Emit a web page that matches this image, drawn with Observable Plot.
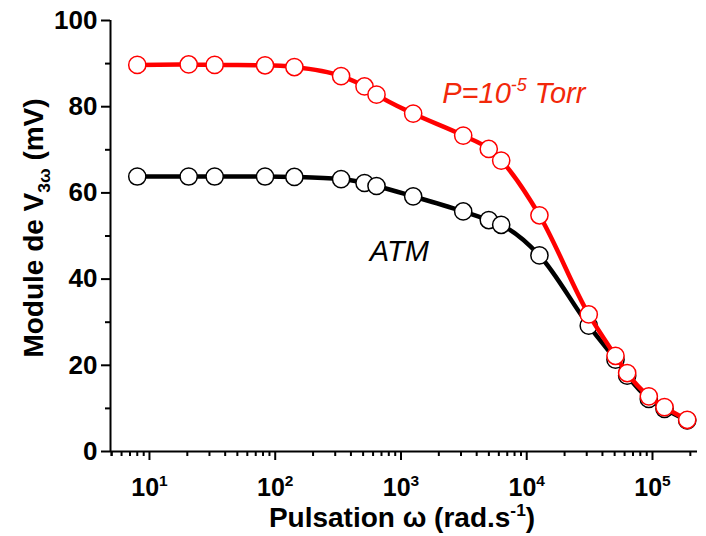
<!DOCTYPE html>
<html>
<head>
<meta charset="utf-8">
<script src="https://cdn.jsdelivr.net/npm/d3@7"></script>
<script src="https://cdn.jsdelivr.net/npm/@observablehq/plot@0.6"></script>
<style>
  html, body { margin: 0; padding: 0; background: #fff; }
</style>
</head>
<body>
<div id="chart"></div>
<script>
// ---- data ----
const omega = [8, 20.5, 33, 83, 142, 334, 513, 639, 1250, 3125, 4990, 6265, 12620, 31130, 50800, 62900, 93500, 124600, 188900];
const vVacuum = [89.7, 89.8, 89.7, 89.6, 89.2, 87.1, 84.7, 82.8, 78.4, 73.3, 70.2, 67.5, 54.8, 31.8, 22.2, 18.2, 12.8, 10.3, 7.35];
const vATM = [63.8, 63.8, 63.8, 63.8, 63.7, 63.2, 62.3, 61.6, 59.2, 55.7, 53.7, 52.6, 45.5, 29.2, 21.3, 17.6, 12.2, 9.9, 7.2];

const xMajorTicks = [10, 100, 1000, 10000, 100000];
const yMajorTicks = [0, 20, 40, 60, 80, 100];
const yMinorTicks = [10, 30, 50, 70, 90];
const xDomain = [4.9, 228000];
const yDomain = [0, 100];

const labelVacuum = "P=10^{-5} Torr";
const labelATM = "ATM";
const xTitle = "Pulsation ω (rad.s^{-1})";
const yTitle = "Module de V_{3ω} (mV)";

// minor log ticks (2..9 × 10^k inside the domain)
const xMinorTicks = [];
for (let k = 0; k <= 5; k++) for (let m = 2; m <= 9; m++) {
  const v = m * Math.pow(10, k);
  if (v >= xDomain[0] && v <= xDomain[1]) xMinorTicks.push(v);
}
if (5 >= xDomain[0]) xMinorTicks.push(5);

const atm = omega.map((w, i) => ({w, v: vATM[i]}));
const vac = omega.map((w, i) => ({w, v: vVacuum[i]}));

const FONT = "'Liberation Sans', Arial, Helvetica, sans-serif";
const RED = "#ff0000";
const RED_TEXT = "#f2280a";

const plot = Plot.plot({
  width: 706,
  height: 536,
  marginLeft: 110,
  marginRight: 9,
  marginTop: 20,
  marginBottom: 85,
  style: {fontFamily: FONT, background: "#fff", color: "#000"},
  x: {type: "log", domain: xDomain},
  y: {domain: yDomain},
  marks: [
    // axes
    Plot.axisX({ticks: xMinorTicks, tickSize: 5, tickFormat: () => "", strokeWidth: 2, label: null}),
    Plot.axisX({ticks: xMajorTicks, tickSize: 9, tickPadding: 18, strokeWidth: 2,
      tickFormat: d => `10^{${Math.round(Math.log10(d))}}`,
      fontSize: 25, fontWeight: "bold", label: null}),
    Plot.axisY({ticks: yMinorTicks, tickSize: 5, tickFormat: () => "", strokeWidth: 2, label: null}),
    Plot.axisY({ticks: yMajorTicks, tickSize: 9, tickPadding: 4, strokeWidth: 2,
      fontSize: 26, fontWeight: "bold", label: null}),
    Plot.ruleY([yDomain[0]], {strokeWidth: 2}),
    Plot.ruleX([xDomain[0]], {strokeWidth: 2}),
    // ATM series
    Plot.line(atm, {x: "w", y: "v", stroke: "#000", strokeWidth: 4.5, curve: "monotone-x"}),
    Plot.dot(atm, {x: "w", y: "v", r: 8.6, fill: "#fff", stroke: "#000", strokeWidth: 1.5}),
    // vacuum series
    Plot.line(vac, {x: "w", y: "v", stroke: RED, strokeWidth: 4.5, curve: "monotone-x"}),
    Plot.dot(vac, {x: "w", y: "v", r: 8.6, fill: "#fff", stroke: RED, strokeWidth: 1.5}),
    // annotations
    Plot.text([labelVacuum], {x: 2130, y: 83.0, text: d => d, textAnchor: "start", lineAnchor: "middle",
      fill: RED_TEXT, fontSize: 29, fontStyle: "italic"}),
    Plot.text([labelATM], {x: 565, y: 46.3, text: d => d, textAnchor: "start", lineAnchor: "middle",
      fill: "#000", fontSize: 29, fontStyle: "italic"}),
    // axis titles
    Plot.text([xTitle], {frameAnchor: "bottom", text: d => d, dy: 67, dx: -2, textAnchor: "middle", lineAnchor: "middle",
      fontSize: 28, fontWeight: "bold", fill: "#000"}),
    Plot.text([yTitle], {frameAnchor: "left", text: d => d, rotate: -90, dx: -76, dy: -8, textAnchor: "middle", lineAnchor: "middle",
      fontSize: 28, fontWeight: "bold", fill: "#000"})
  ]
});

document.getElementById("chart").appendChild(plot);

// turn ^{..} and _{..} into real superscript / subscript tspans
function richify(svg) {
  const NS = "http://www.w3.org/2000/svg";
  svg.querySelectorAll("text").forEach(t => {
    const s = t.textContent;
    if (!/[\^_]\{/.test(s)) return;
    const fs = parseFloat(getComputedStyle(t).fontSize) || 16;
    const re = /([\^_])\{([^}]*)\}/g;
    const parts = [];
    let last = 0, m;
    while ((m = re.exec(s))) {
      parts.push([null, s.slice(last, m.index)]);
      parts.push([m[1], m[2]]);
      last = re.lastIndex;
    }
    parts.push([null, s.slice(last)]);
    while (t.firstChild) t.removeChild(t.firstChild);
    let offset = 0;
    for (const [kind, str] of parts) {
      if (!str) continue;
      const ts = document.createElementNS(NS, "tspan");
      ts.textContent = str;
      let target = 0;
      if (kind === "^") { target = -0.42 * fs; ts.setAttribute("font-size", (0.62 * fs) + "px"); }
      else if (kind === "_") { target = 0.22 * fs; ts.setAttribute("font-size", (0.62 * fs) + "px"); }
      if (target !== offset) ts.setAttribute("dy", (target - offset) + "px");
      offset = target;
      t.appendChild(ts);
    }
  });
}
richify(plot);
</script>
</body>
</html>
